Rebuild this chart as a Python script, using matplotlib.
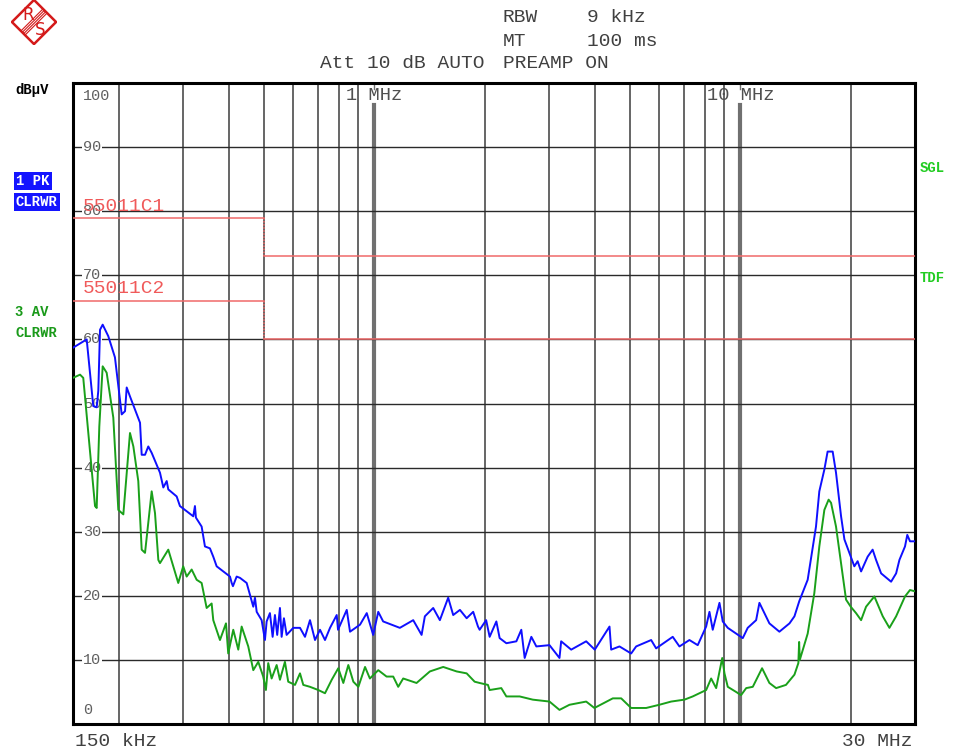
import matplotlib
matplotlib.use("Agg")
import matplotlib.pyplot as plt
import matplotlib.transforms as mtransforms
from matplotlib.patches import Polygon

# peak detector trace (MHz, dBuV)
pk_freq = [0.15, 0.1635, 0.1704, 0.1741, 0.1759, 0.1778, 0.1808, 0.1873, 0.1953,
           0.2038, 0.2081, 0.2103, 0.2147, 0.2287, 0.2311, 0.2360, 0.2409, 0.2461,
           0.2593, 0.2648, 0.2705, 0.2732, 0.2880, 0.2940, 0.3034, 0.3197, 0.3231,
           0.3251, 0.3370, 0.3441, 0.3551, 0.3626, 0.3704, 0.4028, 0.4071, 0.4104,
           0.4201, 0.4289, 0.4474, 0.4664, 0.4714, 0.4765, 0.4916, 0.5019, 0.5073,
           0.5179, 0.5268, 0.5345, 0.5422, 0.5516, 0.5575, 0.5656, 0.5753, 0.6000,
           0.6258, 0.6458, 0.6664,
           0.6878, 0.7098, 0.7324, 0.7559, 0.7885, 0.7950, 0.8398, 0.8573, 0.9131,
           0.9525, 0.9918, 1.024, 1.056, 1.173, 1.276, 1.345, 1.373, 1.447, 1.509,
           1.590, 1.641, 1.712, 1.786, 1.861, 1.918, 1.938, 2.019, 2.064, 2.153,
           2.198, 2.293, 2.442, 2.519, 2.573, 2.683, 2.769, 3.008, 3.203, 3.237,
           3.448, 3.789, 4.000, 4.388, 4.434, 4.672, 5.028, 5.189, 5.703, 5.884,
           6.532, 6.813, 7.256, 7.645, 8.060, 8.230, 8.402, 8.765, 8.948, 9.235,
           9.733, 10.15, 10.47, 11.04, 11.27, 11.63, 12.00, 12.78, 13.62, 14.05,
           14.49, 15.27, 16.09, 16.43, 16.96, 17.31, 17.87, 18.25, 18.84, 19.24,
           20.02, 20.48, 20.91, 21.37, 22.27, 22.98, 23.48, 24.24, 25.81, 26.64,
           27.20, 28.17, 28.58, 29.07, 30.0]
pk_level = [58.7, 60.0, 49.6, 49.4, 52.0, 61.5, 62.3, 60.5, 57.2,
            48.3, 48.8, 52.5, 51.1, 47.0, 42.0, 42.0, 43.3, 42.3,
            39.2, 36.9, 37.9, 36.6, 35.5, 34.0, 33.4, 32.4, 34.0,
            32.2, 30.8, 27.7, 27.4, 26.1, 24.6, 23.0, 22.0, 21.5,
            23.0, 22.8, 22.0, 18.3, 19.7, 17.5, 16.2, 13.1, 16.0,
            17.3, 13.6, 17.0, 13.9, 18.1, 13.6, 16.5, 13.9, 15.0,
            15.0, 13.6, 16.2,
            13.1, 14.7, 13.1, 15.0, 17.0, 14.7, 17.8, 14.4, 15.5,
            17.3, 13.9, 17.5, 16.0, 15.0, 16.2, 13.9, 16.8, 18.1, 16.2,
            19.7, 17.0, 17.8, 16.5, 17.5, 15.2, 14.7, 16.2, 13.6, 16.0,
            13.4, 12.6, 12.9, 14.7, 10.3, 13.6, 12.1, 12.3, 10.3, 12.9,
            11.6, 12.9, 11.6, 15.2, 11.6, 12.1, 11.0, 12.1, 13.1, 11.8,
            13.6, 12.1, 13.1, 12.3, 15.2, 17.5, 14.7, 18.9, 16.0, 15.0,
            14.1, 13.4, 15.0, 16.2, 18.9, 17.3, 15.7, 14.4, 15.7, 16.8,
            19.2, 22.5, 30.8, 36.3, 39.7, 42.5, 42.5, 39.2, 32.4, 28.8,
            26.1, 24.6, 25.4, 23.8, 26.1, 27.2, 25.6, 23.5, 22.2, 23.5,
            25.6, 27.7, 29.5, 28.5, 28.5]

# average detector trace (MHz, dBuV)
av_freq = [0.15, 0.1568, 0.1600, 0.1723, 0.1741, 0.1770, 0.1808, 0.1854, 0.1933,
           0.1995, 0.2059, 0.2147, 0.2193, 0.2262, 0.2311, 0.2360, 0.2461, 0.2513,
           0.2566, 0.2593, 0.2732, 0.2819, 0.2909, 0.3001, 0.3067, 0.3165, 0.3266,
           0.3370, 0.3478, 0.3589, 0.3626, 0.3782, 0.3928, 0.3984, 0.4112, 0.4244,
           0.4335, 0.4519, 0.4664, 0.4813, 0.4965, 0.5050, 0.5124, 0.5235, 0.5403,
           0.5516, 0.5692, 0.5811, 0.6064, 0.6258, 0.6389, 0.6664, 0.7022, 0.7324,
           0.7641, 0.7963, 0.8219, 0.8482, 0.8754, 0.9035, 0.9423, 0.9714, 1.024,
           1.079, 1.125, 1.161, 1.198, 1.303, 1.417, 1.541, 1.677, 1.786, 1.878,
           1.938, 2.042, 2.064, 2.221, 2.293, 2.493, 2.707, 3.008, 3.203, 3.411,
           3.789, 3.990, 4.480, 4.723, 5.028, 5.526, 6.005, 6.466, 7.031, 7.408,
           8.060, 8.318, 8.585, 8.919, 9.046, 9.235, 9.733, 10.04, 10.37, 10.81,
           11.46, 12.00, 12.52, 13.32, 14.05, 14.40, 14.47, 14.53, 15.27, 15.92,
           16.43, 16.96, 17.42, 17.69, 18.25, 18.84, 19.44, 20.02, 20.70, 21.37,
           22.05, 23.23, 24.49, 25.54, 26.64, 28.17, 29.07, 30.0]
av_level = [54.0, 54.5, 54.0, 34.0, 33.7, 46.4, 55.8, 54.8, 47.8,
            33.4, 32.7, 45.4, 43.3, 37.9, 27.2, 26.7, 36.3, 32.9,
            25.6, 25.1, 27.2, 24.6, 22.0, 24.6, 23.0, 24.1, 22.5,
            22.0, 18.1, 18.8, 16.2, 13.1, 15.7, 11.0, 14.7, 11.6,
            15.2, 12.1, 8.4, 9.7, 7.4, 5.3, 9.5, 7.1, 9.2,
            6.9, 9.7, 6.6, 6.1, 7.9, 6.1, 5.8, 5.3, 4.8,
            6.9, 8.7, 6.4, 9.2, 6.6, 5.8, 8.9, 7.1, 8.4,
            7.4, 7.4, 5.8, 7.1, 6.4, 8.2, 8.9, 8.2, 7.9, 6.6,
            6.4, 6.1, 5.3, 5.6, 4.3, 4.3, 3.8, 3.5, 2.2, 3.0,
            3.5, 2.5, 4.0, 4.0, 2.5, 2.5, 3.0, 3.5, 3.8, 4.3,
            5.3, 7.1, 5.6, 10.3, 7.9, 5.8, 5.0, 4.5, 5.6, 5.8,
            8.7, 6.4, 5.6, 6.1, 7.7, 9.5, 12.8, 10.0, 14.1, 20.4,
            27.7, 33.4, 35.0, 34.5, 30.8, 25.1, 19.4, 18.3, 17.3, 16.2,
            18.3, 19.9, 16.8, 15.0, 16.8, 19.9, 20.9, 20.7]

# EN 55011 limit lines
c1_freq = [0.15, 0.5, 0.5, 30.0]
c1_level = [79, 79, 73, 73]
c2_freq = [0.15, 0.5, 0.5, 30.0]
c2_level = [66, 66, 60, 60]

grid_freq = [0.2, 0.3, 0.4, 0.5, 0.6, 0.7, 0.8, 0.9, 2, 3, 4, 5, 6, 7, 8, 9, 20]
decade_freq = [1.0, 10.0]
grid_level = [10, 20, 30, 40, 50, 60, 70, 80, 90]

MONO = "Liberation Mono"
W, H = 960, 752

fig = plt.figure(figsize=(9.6, 7.52), dpi=100)
ax = fig.add_axes([73 / W, 1 - 724 / H, 842 / W, 641 / H])
ax.set_xscale("log")
ax.set_xlim(0.15, 30)
ax.set_ylim(0, 100)
ax.set_xticks([])
ax.set_yticks([])
ax.minorticks_off()
for s in ax.spines.values():
    s.set_linewidth(2.2)
    s.set_color("black")

for f in grid_freq:
    ax.axvline(f, color="#3c3c3c", lw=1.1, zorder=1)
for f in decade_freq:
    ax.axvline(f, ymax=0.965, color="#707070", lw=3.0, zorder=1)
    ax.axvline(f, ymin=0.99, color="#707070", lw=1.0, zorder=1)
for lv in grid_level:
    ax.axhline(lv, color="#2a2a2a", lw=1.0, zorder=1)

# level labels sit on the grid lines inside the frame
ytrans = mtransforms.blended_transform_factory(ax.transAxes, ax.transData)
for lv in grid_level:
    ax.text(0.012, lv, str(lv), transform=ytrans, ha="left", va="center",
            family=MONO, fontsize=11, color="#606060", zorder=2,
            bbox=dict(facecolor="white", edgecolor="none", pad=0.6))
ax.text(0.012, 98, "100", transform=ytrans, ha="left", va="center",
        family=MONO, fontsize=11, color="#606060", zorder=2)
ax.text(0.012, 2.2, "0", transform=ytrans, ha="left", va="center",
        family=MONO, fontsize=11, color="#606060", zorder=2)

ax.text(1.0, 98, "1 MHz", ha="center", va="center", family=MONO, fontsize=13.5,
        color="#505050", zorder=2)
ax.text(10.0, 98, "10 MHz", ha="center", va="center", family=MONO, fontsize=13.5,
        color="#505050", zorder=2)

# limit lines, the step at 500 kHz is dotted
lim_col = "#f06a6a"
for fr, lv in ((c1_freq, c1_level), (c2_freq, c2_level)):
    ax.plot(fr[:2], lv[:2], color=lim_col, lw=1.1, zorder=3)
    ax.plot(fr[1:3], lv[1:3], color=lim_col, lw=1.1, ls=(0, (1, 1)), zorder=3)
    ax.plot(fr[2:], lv[2:], color=lim_col, lw=1.1, zorder=3)
ax.text(0.012, 80.8, "55011C1", transform=ytrans, ha="left", va="center",
        family=MONO, fontsize=14, color="#f05a5a", zorder=3)
ax.text(0.012, 68.0, "55011C2", transform=ytrans, ha="left", va="center",
        family=MONO, fontsize=14, color="#f05a5a", zorder=3)

ax.plot(av_freq, av_level, color="#1aa01a", lw=1.4, zorder=4)
ax.plot(pk_freq, pk_level, color="#0f0fff", lw=1.4, zorder=5)

# header and side annotations
def ftext(x, y, s, **kw):
    fig.text(x / W, 1 - y / H, s, va="center", **kw)

hdr = dict(family=MONO, fontsize=14, color="#404040")
ftext(503, 17, "RBW", **hdr)
ftext(587, 17, "9 kHz", **hdr)
ftext(503, 42, "MT", **hdr)
ftext(587, 42, "100 ms", **hdr)
ftext(320, 64, "Att 10 dB AUTO", **hdr)
ftext(503, 64, "PREAMP ON", **hdr)
ftext(75, 742, "150 kHz", **hdr)
ftext(913, 742, "30 MHz", ha="right", **hdr)

side = dict(family=MONO, fontsize=10, fontweight="bold")
ftext(15, 90, "dBµV", color="black", **side)
ftext(16, 181, "1 PK", color="white",
      bbox=dict(facecolor="#1414ff", edgecolor="none", pad=1.5), **side)
ftext(16, 202, "CLRWR", color="white",
      bbox=dict(facecolor="#1414ff", edgecolor="none", pad=1.5), **side)
ftext(15, 312, "3 AV", color="#1a9a1a", **side)
ftext(15, 333, "CLRWR", color="#1a9a1a", **side)
ftext(920, 168, "SGL", color="#22cc22", **side)
ftext(920, 278, "TDF", color="#22cc22", **side)

# R&S logo
lax = fig.add_axes([11 / W, 1 - 45 / H, 46 / W, 46 / H])
lax.set_xlim(0, 1)
lax.set_ylim(0, 1)
lax.axis("off")
red = "#d41a1a"
lax.add_patch(Polygon([(0.02, 0.5), (0.5, 0.98), (0.98, 0.5), (0.5, 0.02)],
                      closed=True, fill=False, edgecolor=red, lw=1.8))
for d in (-0.045, -0.015, 0.015, 0.045):
    lax.plot([0.26 + d, 0.74 + d], [0.26 - d, 0.74 - d], color=red, lw=0.8)
lax.text(0.37, 0.66, "R", color=red, fontsize=12, ha="center", va="center",
         family="DejaVu Sans")
lax.text(0.63, 0.33, "S", color=red, fontsize=12, ha="center", va="center",
         family="DejaVu Sans")

fig.savefig("out.png", dpi=100)
